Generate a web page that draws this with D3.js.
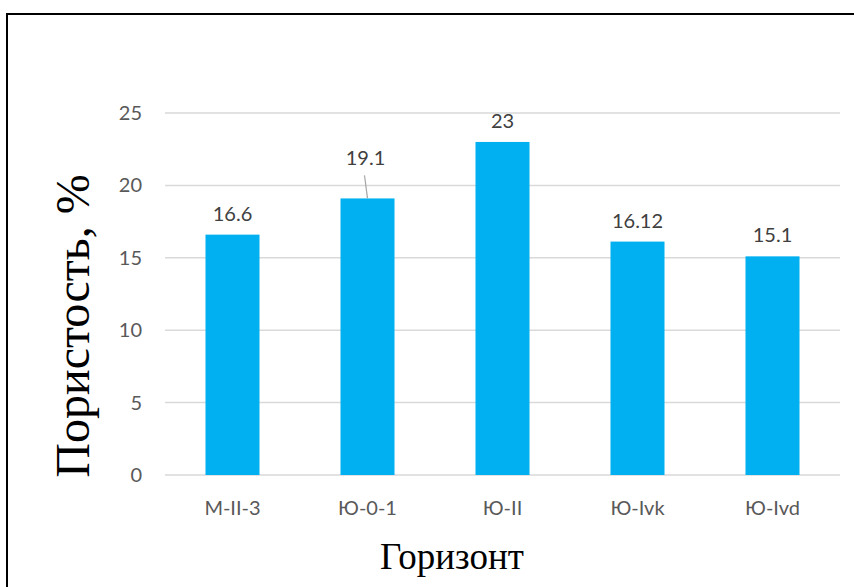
<!DOCTYPE html>
<html>
<head>
<meta charset="utf-8">
<script src="https://cdn.jsdelivr.net/npm/d3@7"></script>
<style>
  body { margin: 0; background: #fff; }
  svg { display: block; }
</style>
</head>
<body>
<svg id="svg1" width="854" height="587"></svg>
<script>
var categories = ['M-II-3', 'Ю-0-1', 'Ю-II', 'Ю-Ivk', 'Ю-Ivd'];
var porosity = [16.6, 19.1, 23, 16.12, 15.1];
var labels = ['16.6', '19.1', '23', '16.12', '15.1'];
var yTicks = [0, 5, 10, 15, 20, 25];

var plotLeft = 165, plotRight = 840, plotTop = 113, plotBottom = 475;

var svg = d3.select('svg');

// outer frame (runs off the right and bottom edges)
svg.append('rect')
    .attr('x', 7).attr('y', 14)
    .attr('width', 900).attr('height', 600)
    .attr('fill', 'none')
    .attr('stroke', '#000')
    .attr('stroke-width', 2);

var x = d3.scaleBand()
    .domain(categories)
    .range([plotLeft, plotRight])
    .paddingInner(0.6)
    .paddingOuter(0.3);

var y = d3.scaleLinear()
    .domain([0, 25])
    .range([plotBottom, plotTop]);

// gridlines
svg.append('g')
    .selectAll('line')
    .data(yTicks)
    .enter()
    .append('line')
    .attr('x1', plotLeft).attr('x2', plotRight)
    .attr('y1', function (d) { return y(d); })
    .attr('y2', function (d) { return y(d); })
    .attr('stroke', '#d9d9d9')
    .attr('stroke-width', 1.5);

// y tick labels
svg.append('g')
    .selectAll('text')
    .data(yTicks)
    .enter()
    .append('text')
    .attr('x', 142)
    .attr('y', function (d) { return y(d); })
    .attr('dy', '0.35em')
    .attr('text-anchor', 'end')
    .attr('font-family', 'Lato, "Open Sans", sans-serif')
    .attr('font-size', 20)
    .attr('fill', '#595959')
    .text(function (d) { return d; });

// bars
svg.append('g')
    .selectAll('rect')
    .data(porosity)
    .enter()
    .append('rect')
    .attr('x', function (d, i) { return x(categories[i]); })
    .attr('y', function (d) { return y(d); })
    .attr('width', x.bandwidth())
    .attr('height', function (d) { return y(0) - y(d); })
    .attr('fill', '#00b0f0');

// data labels (19.1 is lifted with a leader line)
var lift = [0, 19, 0, 0, 0];
svg.append('g')
    .selectAll('text')
    .data(porosity)
    .enter()
    .append('text')
    .attr('x', function (d, i) { return x(categories[i]) + x.bandwidth() / 2 - (lift[i] ? 2 : 0); })
    .attr('y', function (d, i) { return y(d) - 14 - lift[i]; })
    .attr('text-anchor', 'middle')
    .attr('font-family', 'Lato, "Open Sans", sans-serif')
    .attr('font-size', 20)
    .attr('fill', '#404040')
    .text(function (d, i) { return labels[i]; });

var li = 1;
svg.append('line')
    .attr('x1', x(categories[li]) + x.bandwidth() / 2 - 3)
    .attr('y1', y(porosity[li]) - 23)
    .attr('x2', x(categories[li]) + x.bandwidth() / 2)
    .attr('y2', y(porosity[li]))
    .attr('stroke', '#a6a6a6')
    .attr('stroke-width', 1.2);

// x category labels
svg.append('g')
    .selectAll('text')
    .data(categories)
    .enter()
    .append('text')
    .attr('x', function (d) { return x(d) + x.bandwidth() / 2; })
    .attr('y', 508)
    .attr('dy', '0.35em')
    .attr('text-anchor', 'middle')
    .attr('font-family', 'Lato, "Open Sans", sans-serif')
    .attr('font-size', 20)
    .attr('fill', '#595959')
    .text(function (d) { return d; });

// axis titles
svg.append('text')
    .attr('x', 452)
    .attr('y', 569)
    .attr('text-anchor', 'middle')
    .attr('font-family', '"Liberation Serif", "Times New Roman", serif')
    .attr('font-size', 37)
    .attr('fill', '#000')
    .text('Горизонт');

svg.append('text')
    .attr('transform', 'translate(89,326) rotate(-90)')
    .attr('text-anchor', 'middle')
    .attr('font-family', '"Liberation Serif", "Times New Roman", serif')
    .attr('font-size', 48)
    .attr('fill', '#000')
    .text('Пористость, %');
</script>
</body>
</html>
